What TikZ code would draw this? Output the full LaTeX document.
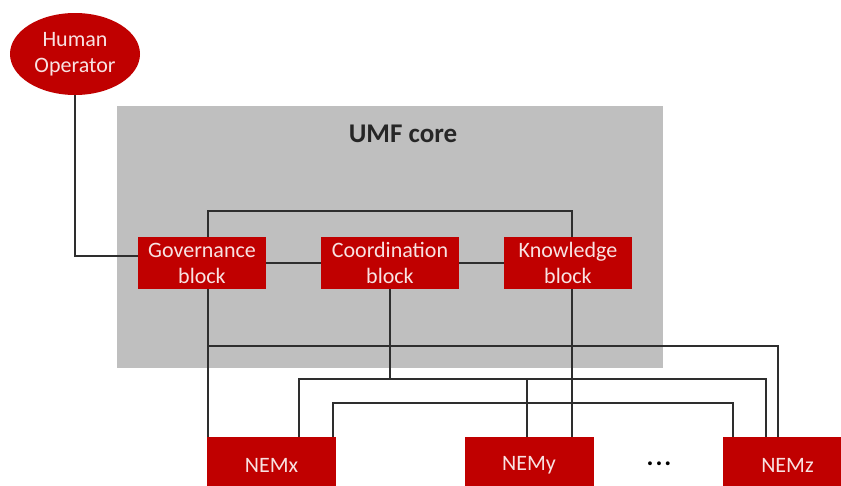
\documentclass[tikz,border=0pt]{standalone}
\usepackage{fontspec}
\setmainfont{Carlito}
\usetikzlibrary{shapes.geometric}
\definecolor{umfred}{HTML}{C00000}
\definecolor{umfgray}{HTML}{BFBFBF}
\definecolor{umftext}{HTML}{F8E2E2}
\definecolor{wirecol}{HTML}{2E2E2E}
\tikzset{
  redbox/.style={draw=none, fill=umfred, text=umftext, align=center,
    font=\fontsize{22}{26}\selectfont, inner sep=0pt, minimum height=52pt},
  nembox/.style={redbox, minimum width=129pt, minimum height=56pt},
  wire/.style={draw=wirecol, line width=1.3pt},
}
\begin{document}
\begin{tikzpicture}[x=1pt,y=-1pt]
\useasboundingbox (0,0) rectangle (841,485);
\clip (0,0) rectangle (841,485);
\fill[white] (0,0) rectangle (841,485);
% core area
\node[fill=umfgray, minimum width=546pt, minimum height=262pt, inner sep=0pt, anchor=north west] (core) at (117,106) {};
\node[font=\fontsize{27}{30}\selectfont\bfseries, text=black!85] (title) at (403,134) {UMF core};
% human operator
\node[ellipse, fill=umfred, text=umftext, align=center, minimum width=130pt, minimum height=82pt, inner sep=0pt, font=\fontsize{22}{26}\selectfont] (human) at (75,54) {Human\\Operator};
% blocks
\node[redbox, minimum width=128pt] (gov) at (202,263) {Governance\\block};
\node[redbox, minimum width=138pt] (coord) at (390,263) {Coordination\\block};
\node[redbox, minimum width=128pt] (know) at (568,263) {Knowledge\\block};
% NEMs
\node[nembox] (nemx) at (271.5,465) {NEMx};
\node[nembox] (nemy) at (529,465) {NEMy};
\node[nembox] (nemz) at (787.5,465) {NEMz};
\node[font=\fontsize{26}{28}\selectfont\bfseries] (dots) at (659,464) {.\kern2pt.\kern2pt.};
% reference coordinates
\coordinate (gx) at (208,0);
\coordinate (cx) at (390,0);
\coordinate (kx) at (572,0);
\coordinate (ty) at (0,211);
\coordinate (ya) at (0,346);
\coordinate (yb) at (0,379);
\coordinate (yc) at (0,403);
\coordinate (za) at (778,0);
\coordinate (zb) at (766,0);
\coordinate (zc) at (733,0);
\coordinate (xb) at (299,0);
\coordinate (xc) at (333,0);
\coordinate (yy) at (527,0);
% connectors
\draw[wire] (human.south) |- ([yshift=7pt]gov.west);
\draw[wire] (gov.north -| gx) |- (ty -| kx) -- (know.north -| kx);
\draw[wire] (gov) -- (coord);
\draw[wire] (coord) -- (know);
\draw[wire] (gov.south -| gx) -- (nemx.north -| gx);
\draw[wire] (ya -| gx) -| (nemz.north -| za);
\draw[wire] (coord.south -| cx) -- (yb -| cx);
\draw[wire] (nemx.north -| xb) |- (yb -| zb) -- (nemz.north -| zb);
\draw[wire] (nemy.north -| yy) -- (yb -| yy);
\draw[wire] (know.south -| kx) -- (nemy.north -| kx);
\draw[wire] (nemx.north -| xc) |- (yc -| zc) -- (nemz.north -| zc);
\end{tikzpicture}
\end{document}
